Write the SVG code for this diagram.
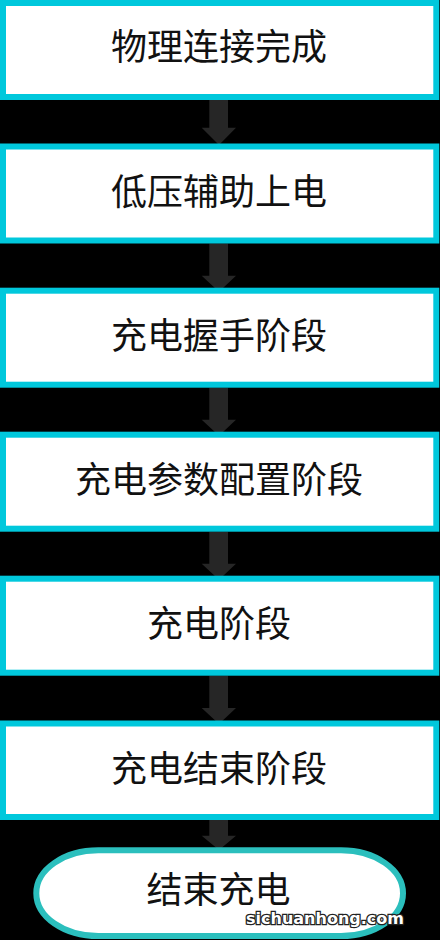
<svg xmlns="http://www.w3.org/2000/svg" width="440" height="940" viewBox="0 0 440 940">
<style>
.box{fill:#ffffff;stroke:#00c8dc;stroke-width:6}
.oval{fill:#ffffff;stroke:#2bbfbd;stroke-width:6}
.lbl{font-family:"Noto Sans CJK SC","Noto Sans",sans-serif;font-size:36px;fill:#111111;text-anchor:middle}
.arr{fill:#262626}
.wm{font-family:"DejaVu Sans",sans-serif;font-weight:bold;font-size:16px;fill:#ffffff;stroke:#222222;stroke-width:2.5;paint-order:stroke}
</style>
<rect x="0" y="0" width="440" height="940" fill="#000000"/>
<g id="connectors">
<polygon class="arr" points="209.3,100 228,100 228,127.7 236,127.7 219,145 201.7,127.7 209.3,127.7"/>
<polygon class="arr" points="209.3,243.5 228,243.5 228,275.7 236,275.7 219,291.7 201.7,275.7 209.3,275.7"/>
<polygon class="arr" points="209.3,387.7 228,387.7 228,419.7 236,419.7 219,435.7 201.7,419.7 209.3,419.7"/>
<polygon class="arr" points="209.3,531.7 228,531.7 228,563.7 236,563.7 219,579.7 201.7,563.7 209.3,563.7"/>
<polygon class="arr" points="209.3,675.7 228,675.7 228,708 236,708 219,724 201.7,708 209.3,708"/>
<polygon class="arr" points="209.3,820 228,820 228,835.7 236,835.7 219,850 201.7,835.7 209.3,835.7"/>
</g>
<g id="n1"><rect class="box" x="3" y="3" width="433.3" height="94"/><text class="lbl" x="219" y="60">物理连接完成</text></g>
<g id="n2"><rect class="box" x="3" y="146.5" width="433.3" height="94"/><text class="lbl" x="219" y="205">低压辅助上电</text></g>
<g id="n3"><rect class="box" x="3" y="290.7" width="433.3" height="94"/><text class="lbl" x="219" y="349">充电握手阶段</text></g>
<g id="n4"><rect class="box" x="3" y="434.7" width="433.3" height="94"/><text class="lbl" x="219" y="493">充电参数配置阶段</text></g>
<g id="n5"><rect class="box" x="3" y="578.7" width="433.3" height="94"/><text class="lbl" x="219" y="637">充电阶段</text></g>
<g id="n6"><rect class="box" x="3" y="723.5" width="433.3" height="93.5"/><text class="lbl" x="219" y="781.5">充电结束阶段</text></g>
<g id="n7"><rect class="oval" x="36.3" y="850.3" width="366.7" height="85.7" rx="62" ry="43"/><text class="lbl" x="218.5" y="903">结束充电</text></g>
<text class="wm" x="325" y="924" text-anchor="middle">sichuanhong.com</text>
</svg>
